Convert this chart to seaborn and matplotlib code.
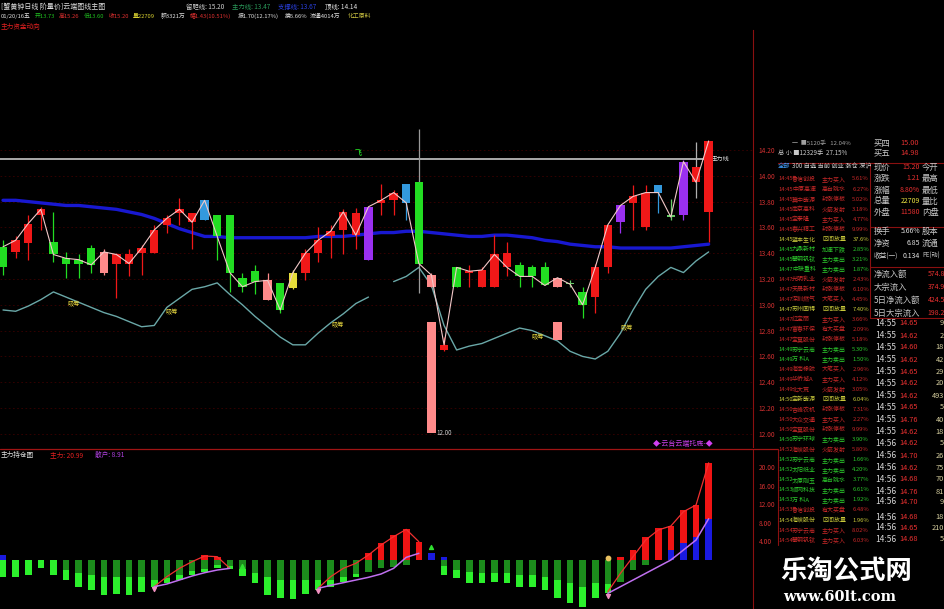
import numpy as np
import pandas as pd
import matplotlib
matplotlib.use("Agg")
import matplotlib.pyplot as plt
from matplotlib.lines import Line2D
import seaborn as sns

# ---------------------------------------------------------------
# main panel data (one candle per bar, prices)
# ---------------------------------------------------------------
kinds = list("grrrgggg" "prrrrrrr" "bggggpgy" "rrrrrvrr" "bgprgrrr" "rgggpdgr" "rvrrbdvr" "r")

opens = [13.29, 13.41, 13.48, 13.70, 13.49, 13.32, 13.32, 13.44, 13.25, 13.32,
         13.39, 13.40, 13.40, 13.62, 13.71, 13.71, 13.66, 13.70, 13.70, 13.21,
         13.26, 13.04, 13.17, 13.13, 13.25, 13.40, 13.53, 13.58, 13.71, 13.35,
         13.79, 13.81, 13.94, 13.95, 13.14, 12.65, 13.14, 13.25, 13.14, 13.14,
         13.40, 13.31, 13.29, 13.29, 13.14, 13.17, 13.10, 13.06, 13.29, 13.64,
         13.79, 13.60, 13.93, 13.70, 13.70, 14.07, 13.72]
closes = [13.45, 13.50, 13.63, 13.74, 13.39, 13.36, 13.35, 13.31, 13.41, 13.39,
          13.32, 13.44, 13.58, 13.67, 13.74, 13.64, 13.81, 13.53, 13.25, 13.14,
          13.18, 13.19, 12.96, 13.25, 13.40, 13.50, 13.57, 13.72, 13.54, 13.76,
          13.81, 13.87, 13.79, 13.32, 13.23, 12.69, 13.29, 13.26, 13.27, 13.39,
          13.29, 13.22, 13.22, 13.15, 13.21, 13.16, 13.00, 13.29, 13.62, 13.77,
          13.84, 13.87, 13.87, 13.68, 14.11, 13.95, 14.27]
highs = [13.50, 13.53, 13.70, 13.76, 13.72, 13.41, 13.39, 13.46, 13.43, 13.40,
         13.43, 13.46, 13.62, 13.70, 13.83, 13.71, 13.81, 13.70, 13.70, 13.25,
         13.31, 13.25, 13.17, 13.27, 13.43, 13.60, 13.62, 13.74, 13.75, 13.76,
         13.94, 13.89, 13.94, 14.36, 13.25, 12.75, 13.29, 13.31, 13.29, 13.54,
         13.49, 13.33, 13.31, 13.33, 13.21, 13.19, 13.14, 13.32, 13.62, 13.77,
         13.93, 13.93, 13.93, 13.82, 14.12, 14.26, 14.27]
lows = [13.23, 13.36, 13.35, 13.58, 13.33, 13.21, 13.21, 13.25, 13.23, 13.05,
        13.22, 13.23, 13.40, 13.56, 13.62, 13.43, 13.66, 13.35, 13.10, 13.10,
        13.08, 13.04, 12.94, 13.12, 13.19, 13.33, 13.36, 13.39, 13.43, 13.35,
        13.70, 13.70, 13.66, 13.09, 13.14, 12.64, 13.14, 13.14, 13.14, 13.14,
        13.22, 13.14, 13.14, 13.15, 13.14, 13.14, 12.90, 12.94, 13.25, 13.56,
        13.58, 13.58, 13.71, 13.66, 13.66, 13.83, 13.49]

ma_line = [13.81, 13.81, 13.80, 13.79, 13.78, 13.77, 13.77, 13.76, 13.75, 13.74,
           13.72, 13.70, 13.67, 13.63, 13.59, 13.56, 13.53, 13.53, 13.52, 13.52,
           13.52, 13.52, 13.52, 13.52, 13.52, 13.53, 13.53, 13.53, 13.54, 13.55,
           13.56, 13.56, 13.57, 13.57, 13.56, 13.55, 13.54, 13.53, 13.53, 13.54,
           13.54, 13.53, 13.52, 13.50, 13.49, 13.47, 13.46, 13.45, 13.45, 13.44,
           13.44, 13.44, 13.44, 13.44, 13.45, 13.46, 13.47]
band_line = [12.96, 12.95, 12.99, 13.04, 13.10, 13.06, 13.02, 12.98, 12.94, 12.91,
             12.87, 12.83, 12.84, 12.98, 13.05, 13.12, 13.14, 13.17, 13.08, 13.00,
             12.91, 12.83, 12.75, 12.69, 12.69, 12.78, 12.86, 12.93, 13.01, 13.06,
             np.nan, 13.18, 13.22, 13.29, 13.15, 12.84, 12.65, 12.68, 12.70, 12.74,
             12.78, 12.82, 12.80, 12.76, 12.72, 12.64, 12.60, 12.58, 12.64, 12.78,
             12.96, 13.12, 13.22, 13.29, 13.25, 13.34, 13.41]

# loose pink blocks that sit under the chart
box_idx = [34, 44]
box_top = [12.87, 12.87]
box_bot = [12.01, 12.73]

signal_idx = [5.6, 13.4, 26.6, 42.4, 49.5]
signal_price = [13.00, 12.94, 12.84, 12.75, 12.82]
pressure_price = 14.13
price_ticks = [14.2, 14.0, 13.8, 13.6, 13.4, 13.2, 13.0, 12.8, 12.6, 12.4, 12.2, 12.0]

# ---------------------------------------------------------------
# lower panel data
# ---------------------------------------------------------------
green_total = [-3.6, -3.6, -3.24, -1.8, -3.24, -4.32, -5.76, -6.48, -7.56, -7.34,
               -7.56, -6.84, -5.76, -5.04, -4.32, -3.24, -2.52, -1.8, -2.02, -3.46,
               -5.04, -7.56, -8.28, -8.5, -7.34, -6.48, -5.76, -4.68, -3.6, -2.52,
               -1.8, -1.44, -1.08, 0, 0, -3.24, -3.96, -5.04, -5.04, -4.68,
               -5.04, -5.76, -5.76, -6.48, -8.28, -9.36, -10.08, -8.28, -7.2, -4.68,
               -2.16, -1.08, 0, 0, 0, 0, 0]
green_dark = [0, 0, 0, 0, 0, -2.2, -2.9, -3.2, -3.6, -3.6,
              -3.6, -3.6, -4.3, -3.8, -3.3, -2.4, -2.0, -1.0, -1.2, -2.0,
              -2.9, -3.6, -4.3, -4.3, -4.3, -4.3, -4.3, -3.6, -3.0, -2.52,
              -1.8, -1.44, -1.08, 0, 0, -1.4, -2.2, -2.6, -2.9, -2.9,
              -2.9, -3.2, -3.2, -3.6, -4.3, -5.0, -5.8, -5.0, -5.2, -4.68,
              -2.16, -1.08, 0, 0, 0, 0, 0]
red_bar = [0, 0, 0, 0, 0, 0, 0, 0, 0, 0,
           0, 0, 0, 0, 0, 0, 1.08, 0.6, 0, 0,
           0, 0, 0, 0, 0, 0, 0, 0, 0, 1.44,
           3.6, 5.4, 6.62, 3.96, 0, 0, 0, 0, 0, 0,
           0, 0, 0, 0, 0, 0, 0, 0, 0, 0.72,
           2.16, 5.04, 6.84, 7.34, 10.8, 11.88, 20.99]
blue_bar = [1.08, 0, 0, 0, 0, 0, 0, 0, 0, 0,
            0, 0, 0, 0, 0, 0, 0, 0, 0, 0,
            0, 0, 0, 0, 0, 0, 0, 0, 0, 0,
            0, 0, 0, 0, 1.44, 0.72, 0, 0, 0, 0,
            0, 0, 0, 0, 0, 0, 0, 0, 0, 0,
            0, 0, 0, 2.16, 3.6, 5.04, 8.91]

seg_ids = [1] * 7 + [2] * 9 + [3] * 9
seg_idx = list(range(12, 19)) + list(range(25, 34)) + list(range(48, 57))
main_val = [-5.76, -3.6, -1.8, -0.36, 0.86, 0.72, -1.8,
            -6.12, -3.6, -1.8, -0.72, 1.08, 3.24, 5.04, 6.62, 3.96,
            -6.84, -2.88, 0.72, 4.32, 6.48, 7.34, 10.44, 11.88, 20.99]
retail_val = [-5.76, -5.18, -4.32, -3.46, -2.74, -2.16, -1.8,
              -6.12, -5.47, -4.9, -4.32, -3.74, -3.02, -1.8, 0.58, 1.44,
              -7.2, -5.76, -4.32, -2.88, -1.44, 0.0, 2.16, 4.32, 8.91]
lower_ticks = [20, 16, 12, 8, 4]

# ---------------------------------------------------------------
# right side quote panel text
# ---------------------------------------------------------------
tape_names = ["鲁信创投", "中原高速", "冀中能源", "南京高科", "宝泰隆", "春兴精工", "蓝丰生化",
              "九鼎新材", "攀钢钒钛", "中联重科", "光明乳业", "天晟新材", "深圳燃气", "苏州固锝",
              "红宝丽", "富春环保", "宝莫股份", "苏宁云商", "万 科A", "海南橡胶", "华侨城A",
              "北大荒", "宝新能源", "吉峰农机", "大众交通", "宝莫股份", "苏宁环球", "海峡股份",
              "苏宁云商", "太阳纸业", "太原刚玉", "顺网科技", "万 科A", "鲁信创投", "海峡股份",
              "苏宁云商", "攀钢钒钛"]
tape_actions = ["主力买入", "高台跳水", "封涨停板", "火箭发射", "主力买入", "封涨停板", "区间放量",
                "加速下跌", "主力卖出", "主力卖出", "火箭发射", "封涨停板", "大笔买入", "区间放量",
                "主力买入", "有大买盘", "封涨停板", "主力卖出", "主力卖出", "大笔买入", "主力买入",
                "火箭发射", "区间放量", "封涨停板", "主力买入", "封涨停板", "主力卖出", "火箭发射",
                "主力卖出", "主力卖出", "高台跳水", "主力卖出", "主力卖出", "有大买盘", "区间放量",
                "主力买入", "主力买入"]
tape_pcts = ["5.61%", "6.27%", "5.02%", "3.18%", "4.77%", "9.99%", "37.6%",
             "2.85%", "3.21%", "1.87%", "2.43%", "6.10%", "4.45%", "7.40%",
             "3.66%", "2.09%", "5.18%", "5.30%", "1.50%", "2.96%", "4.12%",
             "3.05%", "6.04%", "7.31%", "2.27%", "9.99%", "3.90%", "5.80%",
             "1.66%", "4.20%", "3.77%", "6.61%", "1.92%", "6.48%", "1.96%",
             "8.02%", "6.03%"]
tape_colors = list("rrrrrr" "y" "ggg" "rrr" "y" "rrr" "gg" "rrr" "y" "rrr" "g" "r" "ggggg" "r" "y" "rr")
tape_times = ["14:45"] * 9 + ["14:47"] * 8 + ["14:49"] * 5 + ["14:50"] * 5 + \
             ["14:52"] * 4 + ["14:53"] * 3 + ["14:54"] * 3

quote_labels = ["现价", "涨跌", "涨幅", "总量", "外盘", "换手", "净资", "收益(一)"]
quote_values = ["15.20", "1.21", "8.80%", "22709", "11580", "5.66%", "6.85", "0.134"]
quote_right = ["今开", "最高", "最低", "量比", "内盘", "股本", "流通", "PE(动)"]
flow_labels = ["净流入额", "大宗流入", "5日净流入额", "5日大宗流入"]
flow_values = ["574.8", "374.9", "424.5", "198.2"]

deal_times = ["14:55"] * 10 + ["14:56"] * 9
deal_prices = ["14.65", "14.62", "14.60", "14.62", "14.65", "14.62", "14.62", "14.65", "14.76", "14.62",
               "14.62", "14.70", "14.62", "14.68", "14.76", "14.70", "14.68", "14.65", "14.68"]
deal_vols = ["9", "2", "18", "42", "29", "20", "493", "5", "40", "18",
             "5", "26", "75", "70", "81", "9", "18", "210", "5"]

# ---------------------------------------------------------------
# styling
# ---------------------------------------------------------------
sns.set_style("dark", {"axes.facecolor": "black", "figure.facecolor": "black"})
plt.rcParams['font.family'] = ['Noto Sans CJK SC', 'DejaVu Sans']
plt.rcParams['axes.unicode_minus'] = False

W, H = 945, 609
def fx(px):
    return px / W
def fy(py):
    return 1 - py / H
def put(xp, yp, s, color, size=4.8, ha='left', **kw):
    fig.text(fx(xp), fy(yp), s, color=color, fontsize=size, ha=ha, va='center', **kw)

candle_colors = {'r': '#f01818', 'g': '#22dd22', 'p': '#ff8a8a', 'b': '#3399dd',
                 'v': '#9a30f0', 'y': '#e6dc3a', 'd': '#66cc66'}
row_colors = {'r': '#c82828', 'g': '#2cc82c', 'y': '#c8c83a'}
RED_LINE = '#8a1010'

fig = plt.figure(figsize=(9.45, 6.09), dpi=100, facecolor='black')

# ---------------------------------------------------------------
# main candle panel
# ---------------------------------------------------------------
ax = fig.add_axes([0, fy(447), fx(753), (447 - 30) / H])
ax.set_facecolor('black')
x = np.arange(len(opens))
o = np.array(opens)
c = np.array(closes)
body_bot = np.minimum(o, c)
body_h = np.maximum(np.abs(c - o), 0.012)
cols = [candle_colors[k] for k in kinds]
wick_cols = list(cols)
wick_cols[33] = '#9a9a9a'
wick_cols[55] = '#b0b0b0'

df_main = pd.DataFrame({"idx": x, "ma": ma_line, "band": band_line, "close": closes})
band_df = df_main[["idx", "band"]].copy()
band_df["seg"] = band_df["band"].isna().cumsum()
band_df = band_df.dropna()

ax.hlines(pressure_price, -0.3, 56.2, color='#d8d8d8', lw=1.1, zorder=1)
sns.lineplot(data=df_main, x="idx", y="ma", ax=ax, color='#1818d0', lw=2.4, zorder=2, legend=False)
sns.lineplot(data=band_df, x="idx", y="band", units="seg", estimator=None, ax=ax,
             color='#6aa8a8', lw=1.0, zorder=2, legend=False)
ax.bar(box_idx, np.array(box_top) - np.array(box_bot), bottom=box_bot, width=0.66,
       color='#ff8a8a', linewidth=0, zorder=3)
ax.vlines(x, lows, highs, colors=wick_cols, lw=0.9, zorder=3)
ax.bar(x, body_h, bottom=body_bot, width=0.66, color=cols, linewidth=0, zorder=4)
sns.lineplot(data=df_main, x="idx", y="close", ax=ax, color='#f2c8c8', lw=0.8, zorder=5, legend=False)

for xi, yi in zip(signal_idx, signal_price):
    ax.text(xi, yi, "吸筹", color='#e8d840', fontsize=4.5, ha='center', va='center', zorder=6)
ax.text(28.2, 14.18, "飞", color='#22cc22', fontsize=5, ha='center', va='center', weight='bold')
ax.text(56.2, pressure_price, "压力线", color='#e0e0e0', fontsize=4.5, ha='left', va='center')
ax.text(34.4, 12.01, "12.00", color='#d0d0d0', fontsize=4.5, ha='left', va='center')
ax.text(54.0, 11.925, "◆-云台云端托底-◆", color='#d040f0', fontsize=5, ha='center', va='center')

ax.set_xlim(-0.24, 59.52)
ax.set_ylim(11.898, 15.130)
ax.set_xticks([])
ax.yaxis.tick_right()
ax.set_yticks(price_ticks)
ax.set_yticklabels(["%.2f" % p for p in price_ticks], color='#d03030', fontsize=4.8)
ax.tick_params(axis='y', length=0, pad=4)
ax.grid(axis='y', color='#3a0000', lw=0.6, ls=(0, (2, 3)))
ax.grid(axis='x', visible=False)
for side in ['top', 'left', 'bottom']:
    ax.spines[side].set_visible(False)
ax.spines['right'].set_color(RED_LINE)
ax.set_xlabel("")
ax.set_ylabel("")

# ---------------------------------------------------------------
# lower money-flow panel
# ---------------------------------------------------------------
ax2 = fig.add_axes([0, 0, fx(753), fy(450)])
ax2.set_facecolor('black')
ax2.bar(x, green_total, width=0.52, color='#2cf02c', linewidth=0, zorder=2)
ax2.bar(x, green_dark, width=0.52, color='#1c8c1c', linewidth=0, zorder=3)
ax2.bar(x, red_bar, width=0.52, color='#f01414', linewidth=0, zorder=3)
ax2.bar(x, blue_bar, width=0.52, color='#1a1ae0', linewidth=0, zorder=4)

df_low = pd.DataFrame({"idx": seg_idx, "seg": seg_ids, "main": main_val, "retail": retail_val})
sns.lineplot(data=df_low, x="idx", y="main", units="seg", estimator=None, ax=ax2,
             color='#f03030', lw=0.9, zorder=5, legend=False)
sns.lineplot(data=df_low, x="idx", y="retail", units="seg", estimator=None, ax=ax2,
             color='#c070f0', lw=1.1, zorder=5, legend=False)
starts = df_low.groupby("seg").first()
ax2.scatter(starts["idx"], starts["retail"] - 0.6, marker='v', s=8, color='#f090c0', zorder=6)
ax2.scatter([19, 34], [-1.4, 2.8], marker='^', s=8, color='#30e030', zorder=6)
ax2.scatter([48], [0.5], marker='o', s=10, color='#e8c060', zorder=6)

ax2.set_xlim(-0.24, 59.52)
ax2.set_ylim(-10.58, 23.76)
ax2.set_xticks([])
ax2.yaxis.tick_right()
ax2.set_yticks(lower_ticks)
ax2.set_yticklabels(["%.2f" % v for v in lower_ticks], color='#d03030', fontsize=4.8)
ax2.tick_params(axis='y', length=0, pad=4)
ax2.grid(False)
for side in ['top', 'left', 'bottom']:
    ax2.spines[side].set_visible(False)
ax2.spines['right'].set_color(RED_LINE)
ax2.set_xlabel("")
ax2.set_ylabel("")

# ---------------------------------------------------------------
# header texts
# ---------------------------------------------------------------
put(1, 7, "[蟹黄钟日线 阶量价]云端图线主图", '#e0e0e0', 5)
put(186, 7, "留胆线: 15.20", '#d0d0d0', 4.6)
put(232, 7, "主力线: 13.47", '#2a9a5a', 4.6)
put(278, 7, "支撑线: 13.67", '#2a40e0', 4.6)
put(325, 7, "顶线: 14.14", '#e0e0e0', 4.6)
row2 = [(1, "01/20/16五", '#e0e0e0'), (35, "开13.73", '#20c020'), (59, "高15.26", '#e03030'),
        (84, "低13.60", '#20c020'), (109, "收15.20", '#e03030'), (133, "量22709", '#d8d030'),
        (161, "额3321万", '#e0e0e0'), (190, "幅1.43(10.51%)", '#e03030'),
        (238, "振1.70(12.17%)", '#e0e0e0'), (285, "换5.66%", '#e0e0e0'),
        (310, "流通4014万", '#e0e0e0'), (348, "化工原料", '#c8c040')]
for xp, s, col in row2:
    put(xp, 16, s, col, 4.2)
put(1, 27, "主力资金动向", '#e02020', 4.8)
put(1, 455, "主力持仓图", '#e0e0e0', 4.8)
put(50, 455, "主力: 20.99", '#e02020', 4.8)
put(95, 455, "散户: 8.91", '#b040e0', 4.8)

# ---------------------------------------------------------------
# right quote panel
# ---------------------------------------------------------------
def fline(x0, x1, y0, y1, col=RED_LINE, lw=0.8):
    fig.add_artist(Line2D([fx(x0), fx(x1)], [fy(y0), fy(y1)], color=col, lw=lw,
                          transform=fig.transFigure))

fline(0, 778, 449, 449, '#a01414', 0.9)
fline(778, 945, 163, 163)
fline(870, 945, 227, 227)
fline(870, 945, 267, 267)
fline(870, 945, 318, 318)
fline(870, 870, 163, 318)
fline(778, 778, 449, 545)

put(792, 143, "一  ■5120手   12.04%", '#a0a0a0', 4.3)
put(778, 153, "总 小 ■12329手  27.15%", '#c8c8c8', 4.5)
put(778, 166, "全部", '#40a0ff', 4.5)
put(792, 166, "300 自选 当前 创业 涨仓 深沪", '#d0d0d0', 4.5)
put(874, 143, "买四", '#c8c8c8', 6.0)
put(919, 143, "15.00", '#e03030', 5.3, ha='right')
put(874, 153, "买五", '#c8c8c8', 6.0)
put(919, 153, "14.98", '#e03030', 5.3, ha='right')

for k in range(len(tape_names)):
    yp = 179 + k * 10.03
    col = row_colors[tape_colors[k]]
    put(778, yp, tape_times[k], col, 4.2)
    put(792, yp, tape_names[k], col, 4.3)
    put(822, yp, tape_actions[k], col, 4.3)
    put(869, yp, tape_pcts[k], col, 4.2, ha='right')

quote_y = [167, 178, 190, 201, 212, 231, 243, 256]
value_cols = ['#e83030', '#e83030', '#e83030', '#e8e040', '#e83030', '#e0e0e0', '#e0e0e0', '#e0e0e0']
label_sizes = [6.0, 6.0, 6.0, 6.0, 6.0, 6.0, 6.0, 4.8]
right_sizes = [6.0, 6.0, 6.0, 6.0, 6.0, 6.0, 6.0, 4.4]
for k in range(len(quote_labels)):
    put(874, quote_y[k], quote_labels[k], '#c8c8c8', label_sizes[k])
    put(920, quote_y[k], quote_values[k], value_cols[k], 5.0, ha='right')
    put(922, quote_y[k], quote_right[k], '#c8c8c8', right_sizes[k])

flow_y = [274, 287, 300, 313]
for k in range(len(flow_labels)):
    put(874, flow_y[k], flow_labels[k], '#c8c8c8', 6.0)
    put(945, flow_y[k], flow_values[k], '#e83030', 5.0, ha='right')

deal_y = [323, 336, 347, 360, 372, 383, 396, 407, 420, 432,
          443, 456, 468, 479, 492, 502, 517, 528, 539]
for k in range(len(deal_times)):
    put(875, deal_y[k], deal_times[k], '#d8d8d8', 6.0)
    put(918, deal_y[k], deal_prices[k], '#e83030', 5.3, ha='right')
    put(944, deal_y[k], deal_vols[k], '#d8d0a0', 5.3, ha='right')

# watermark
put(780, 571, "乐淘公式网", 'white', 19, weight='bold')
put(783, 597, "www.60lt.com", 'white', 10.5, family='DejaVu Serif', weight='bold')

fig.savefig("out.png", dpi=100, facecolor='black')
